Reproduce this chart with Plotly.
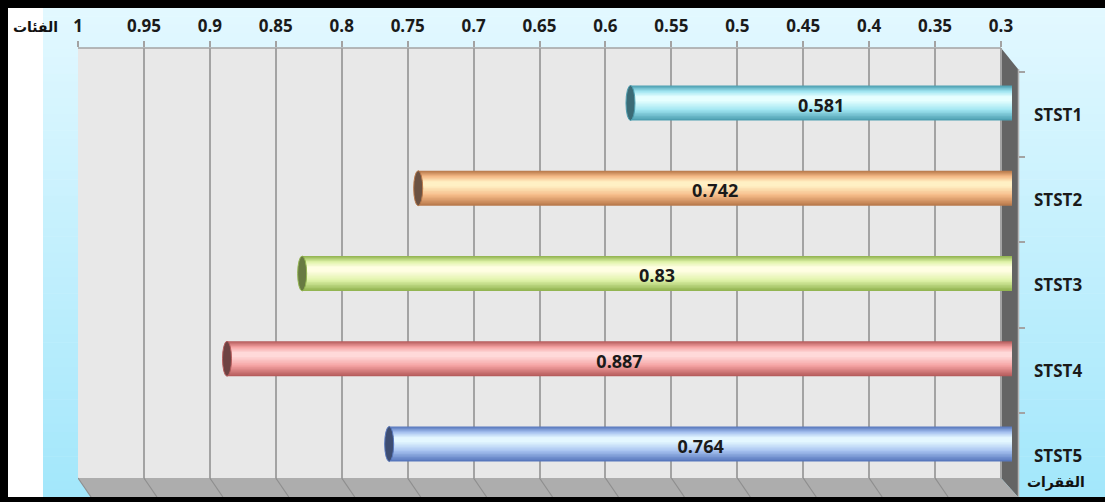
import plotly.graph_objects as go

# ---- data -------------------------------------------------------------
categories = ["STST1", "STST2", "STST3", "STST4", "STST5"]
values = [0.581, 0.742, 0.83, 0.887, 0.764]
tick_vals = [1, 0.95, 0.9, 0.85, 0.8, 0.75, 0.7, 0.65, 0.6, 0.55, 0.5, 0.45, 0.4, 0.35, 0.3]
tick_text = ["1", "0.95", "0.9", "0.85", "0.8", "0.75", "0.7", "0.65", "0.6",
             "0.55", "0.5", "0.45", "0.4", "0.35", "0.3"]
x_title = "الفئات"
y_title = "الفقرات"

# cylinder shading per bar: outer edge, body, highlight, end cap
edge_col = ["#4e9fb1", "#b97a4c", "#93b552", "#b65d5d", "#5878bd"]
body_col = ["#9fe5f1", "#f6bb88", "#def2a8", "#f5a2a2", "#a6c2f0"]
high_col = ["#e6ffff", "#fff0c4", "#fffee2", "#ffd9d9", "#e4f7ff"]
cap_col = ["#3b6b76", "#6c5242", "#687a42", "#6e4343", "#3d4d72"]

# ---- geometry ---------------------------------------------------------
W, H = 1105, 502
L, R, T, B = 78, 1001, 48, 478          # back wall of the plot
DEPTH_X, DEPTH_Y = 17, 19                 # 3-D offset of wall / floor
u = (1 - 0.3) / (R - L)                   # data units per pixel on x
x_end = 0.3 - 11 * u                      # bars run slightly into the side wall
ypos = list(range(len(categories)))
unit_px = 85.25
y_top = -(55 / unit_px)
y_bot = (B - T - 55) / unit_px
BAR_W = 0.41


def px(x):
    return x / W


def py(y):
    return 1 - y / H


def hex2rgb(h):
    h = h.lstrip("#")
    return tuple(int(h[i:i + 2], 16) for i in (0, 2, 4))


def mix(a, b, t):
    ra, rb = hex2rgb(a), hex2rgb(b)
    return "rgb(%d,%d,%d)" % tuple(round(ra[i] + (rb[i] - ra[i]) * t) for i in range(3))


fig = go.Figure()

# layered bars give a cylinder-like shading
N = 14
for k in range(N):
    t = k / (N - 1)
    w = BAR_W * (1 - 0.86 * t)
    c = -0.12 * BAR_W * t
    cols = []
    for i in range(len(values)):
        if t < 0.5:
            cols.append(mix(edge_col[i], body_col[i], t * 2))
        else:
            cols.append(mix(body_col[i], high_col[i], (t - 0.5) * 2))
    fig.add_trace(go.Bar(
        orientation="h", y=ypos, x=values,
        width=[w] * len(values), offset=[c - w / 2] * len(values),
        marker=dict(color=cols, line=dict(width=0)),
        hoverinfo="skip", showlegend=False,
    ))

# value labels in the middle of each cylinder
fig.add_trace(go.Scatter(
    x=[(v + x_end) / 2 for v in values], y=[p + 0.05 for p in ypos],
    mode="text", text=[str(v) for v in values],
    textfont=dict(family="Open Sans, DejaVu Sans", size=18, color="#1a1a1a", weight="bold"),
    hoverinfo="skip", showlegend=False,
))

shapes = []

# background gradient
x_bg0, y_bg0, y_bg1 = 43, 8, 497
n_str = 60
for s in range(n_str):
    y0 = y_bg0 + (y_bg1 - y_bg0) * s / n_str
    y1 = y_bg0 + (y_bg1 - y_bg0) * (s + 1) / n_str + 0.6
    shapes.append(dict(type="rect", xref="paper", yref="paper", layer="below",
                       x0=px(x_bg0), x1=px(W), y0=py(y0), y1=py(y1),
                       fillcolor=mix("#e2f8ff", "#a3e7fb", s / (n_str - 1)),
                       line=dict(width=0)))

# back wall, side wall and floor
shapes.append(dict(type="rect", xref="paper", yref="paper", layer="below",
                   x0=px(L), x1=px(R), y0=py(T), y1=py(B),
                   fillcolor="#e8e8e8", line=dict(width=0)))
side = "M %f %f L %f %f L %f %f L %f %f Z" % (
    px(R), py(T), px(R + DEPTH_X), py(T + DEPTH_Y + 2),
    px(R + DEPTH_X), py(B + DEPTH_Y), px(R), py(B))
shapes.append(dict(type="path", xref="paper", yref="paper", layer="below",
                   path=side, fillcolor="#646464", line=dict(width=0)))
floor = "M %f %f L %f %f L %f %f L %f %f Z" % (
    px(L), py(B), px(R), py(B), px(R + DEPTH_X), py(B + DEPTH_Y),
    px(L + 13), py(B + DEPTH_Y))
shapes.append(dict(type="path", xref="paper", yref="paper", layer="below",
                   path=floor, fillcolor="#adadad", line=dict(width=0)))
shapes.append(dict(type="line", xref="paper", yref="paper", layer="below",
                   x0=px(L), x1=px(R), y0=py(T), y1=py(T),
                   line=dict(color="#a3a3a3", width=1.5)))
shapes.append(dict(type="line", xref="paper", yref="paper", layer="below",
                   x0=px(R + DEPTH_X + 0.5), x1=px(R + DEPTH_X + 0.5),
                   y0=py(T + DEPTH_Y + 2), y1=py(B + DEPTH_Y),
                   line=dict(color="#b5b5b5", width=1.5)))

# grid lines continue across the floor
for tv in tick_vals[:-1]:
    shapes.append(dict(type="line", xref="x", yref="paper", layer="below",
                       xsizemode="pixel", xanchor=tv, x0=0, x1=13,
                       y0=py(B), y1=py(B + DEPTH_Y),
                       line=dict(color="#8e8e8e", width=1.2)))

# elliptical end caps of the cylinders
for i, v in enumerate(values):
    shapes.append(dict(type="circle", xref="x", yref="y", layer="above",
                       x0=v + 4.5 * u, x1=v - 4.5 * u,
                       y0=ypos[i] - BAR_W / 2, y1=ypos[i] + BAR_W / 2,
                       fillcolor=cap_col[i], line=dict(color=edge_col[i], width=1)))

# frame
for x0, x1, y0, y1 in [(0, W, 0, 8), (0, 8, 0, H), (0, W, 497, H)]:
    shapes.append(dict(type="rect", xref="paper", yref="paper", layer="above",
                       x0=px(x0), x1=px(x1), y0=py(y0), y1=py(y1),
                       fillcolor="black", line=dict(width=0)))

tick_font = dict(family="Open Sans, DejaVu Sans", size=17, color="#1a1a1a", weight="bold")
title_font = dict(family="DejaVu Sans", size=14, color="#111111", weight="bold")

fig.update_layout(
    width=W, height=H,
    margin=dict(l=0, r=0, t=0, b=0),
    paper_bgcolor="white", plot_bgcolor="rgba(0,0,0,0)",
    barmode="overlay", showlegend=False,
    shapes=shapes,
    xaxis=dict(domain=[px(L), px(R + 11)], range=[1, x_end], side="top", anchor="y",
               tickmode="array", tickvals=tick_vals, ticktext=tick_text,
               showgrid=True, gridcolor="#a3a3a3", gridwidth=1.5,
               ticks="outside", ticklen=6, tickcolor="#a3a3a3", tickwidth=1.5,
               ticklabelstandoff=2,
               tickfont=tick_font, zeroline=False, showline=False,
               automargin=False, fixedrange=True),
    yaxis=dict(domain=[1 - B / H, 1 - T / H], range=[y_bot, y_top], side="right",
               anchor="free", position=px(R + DEPTH_X),
               tickmode="array", tickvals=ypos, ticktext=categories,
               ticks="", showgrid=False, zeroline=False, showline=False,
               ticklabelshift=-12, ticklabelstandoff=15,
               minor=dict(tickmode="array", tickvals=[p - 0.364 for p in ypos],
                          ticks="outside", ticklen=6, tickcolor="#a3a3a3",
                          tickwidth=1.5, showgrid=False),
               tickfont=tick_font, automargin=False, fixedrange=True),
    annotations=[
        dict(text=x_title, xref="paper", yref="paper", x=px(35), y=py(27),
             xanchor="center", yanchor="middle", showarrow=False, font=title_font),
        dict(text=y_title, xref="paper", yref="paper", x=px(1056), y=py(482),
             xanchor="center", yanchor="middle", showarrow=False, font=title_font),
    ],
)

fig.write_html("out.html")
